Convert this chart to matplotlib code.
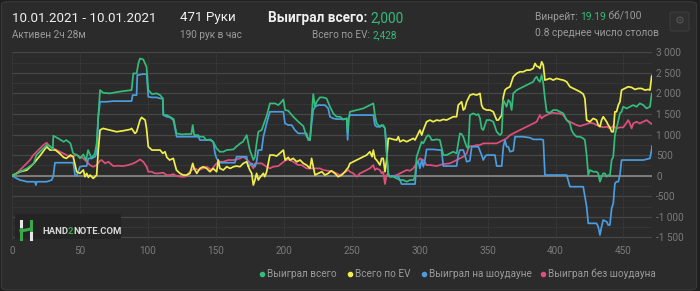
import matplotlib.pyplot as plt
from matplotlib.patches import FancyBboxPatch, Rectangle
from matplotlib.lines import Line2D
import numpy as np

# ---- данные (руки, результат в $) ----
green_x = [0, 6, 11, 16, 18, 23, 25.5, 28, 30, 30.4, 34, 38, 40, 43, 45, 48, 50, 52.5, 54.5, 56, 58.6, 61, 62.3, 63.5, 64.8,
           67, 72, 77, 84, 88, 89.3, 91.7, 93, 94.2, 96.6, 99, 100.3, 103, 106.5, 109, 111, 111.4, 114, 116, 119, 121,
           125, 128.5, 132, 133, 134, 137, 138, 141, 143, 146, 148, 150.6, 153, 155.5, 158, 163, 165, 168, 170, 172.7,
           174, 175, 176.4, 177.6, 178.8, 180, 181.3, 183.7, 187.4, 189.8, 193.5, 196, 198.4, 199.7, 201, 203.3, 207,
           210.7, 214.4, 216.8, 219.3, 220.5, 221.7, 223, 224.2, 226.6, 229, 231.5, 234, 236.4, 239, 241.4, 243.8, 246.3,
           247, 247.8, 248.7, 253.6, 258.5, 263.4, 265.9, 267.1, 268.3, 270.8, 273.2, 274.5, 275.7, 276.9, 278.1, 280.6,
           283.1, 285.5, 288, 290.4, 292.9, 295.3, 296.6, 297.8, 300.2, 301.5, 302.7, 305.1, 306.3, 307.6, 308.8, 310,
           312.5, 314.9, 317.4, 319.8, 322.3, 324.7, 327.2, 329.6, 330.9, 332.1, 333.3, 334.6, 335.8, 337, 339.5, 341.9,
           343.2, 344.4, 345.6, 346.8, 349.3, 351.8, 354.2, 356.7, 359.1, 360.4, 361.6, 362.8, 364, 365.2, 366.5, 367.7,
           368.9, 371.4, 373.8, 376.3, 378.7, 381.2, 383.6, 384.9, 386.1, 387.3, 388.5, 389.8, 391, 392.2, 393.5, 395.9,
           398.3, 400.8, 403.3, 405.7, 408.2, 410.6, 411.8, 413.1, 415.5, 418, 420.4, 421.6, 422.9, 424.1, 425.3, 427.8,
           430.2, 431.4, 432.7, 433.9, 435.1, 436.3, 437.6, 438.8, 440, 441.3, 442.5, 443.7, 444.9, 447.4, 448.6, 449.8,
           452.3, 454.7, 457.2, 459.6, 462.1, 464.6, 467, 469.5, 470.7, 471]
green_y = [0, 97, 178, 300, 502, 664, 745, 721, 624, 972, 907, 826, 867, 786, 543, 502, 421, 518, 381, 624, 421, 543, 786, 1434, 2082,
           2017, 2001, 2033, 2066, 2082, 2487, 2487, 2730, 2851, 2827, 2649, 2082, 1985, 2001, 1960, 1879, 1474, 1474, 1434, 1377, 1029,
           1004, 1013, 1013, 1231, 988, 988, 948, 948, 867, 883, 826, 664, 583, 583, 624, 640, 705, 786, 826, 988,
           786, 624, 502, 381, 462, 786, 1069, 1110, 1450, 1758, 1758, 1717, 1798, 1855, 1596, 1580, 1434,
           1312, 1207, 948, 867, 1434, 1985, 1677, 1798, 1904, 1904, 1879, 1677, 1515, 1434, 1434, 1369, 1393,
           1040, 1393, 1555, 1596, 1636, 1717, 1758, 1474, 1272, 1191, 1231, 1150, 624, 16, -24, -24,
           -65, -105, -105, -146, -105, -105, -24, 462, 705, 826, 786, 948, 988, 948, 867, 867,
           883, 867, 502, 502, 543, 583, 543, 1029, 1013, 948, 826, 705, 664, 1474, 1515, 1474,
           1499, 1393, 1150, 1110, 1353, 1353, 1312, 1069, 988, 1029, 1839, 1758, 1677, 1839, 1798, 1596,
           2001, 2082, 2122, 2163, 2203, 2244, 2284, 2365, 2406, 2325, 2284, 2446, 2244, 1879, 1555, 1531,
           1596, 1596, 1555, 1515, 1353, 1272, 1110, 1029, 948, 948, 907, 867, 502, 16, 138, 97,
           97, 57, -146, -24, 57, 57, -24, 16, -8, 381, 462, 988, 1150, 1515, 1555, 1677,
           1636, 1677, 1717, 1677, 1758, 1717, 1636, 1677, 1960, 2000]

ev_x = [0, 6, 11, 16, 21, 25.5, 28, 32, 35, 38, 40, 43, 45, 47.6, 50, 52.5, 53.7, 55, 56.2, 57.4, 59.8, 62.3, 63.5, 64.8,
        67, 72, 77, 82, 87, 88, 90.5, 91.7, 94.2, 95.4, 98, 99, 100.3, 103, 106.5, 109, 111, 112.6, 114, 116, 118.7,
        121, 123.6, 126, 128.5, 131, 133, 134, 136, 138.3, 140.8, 143.2, 145.7, 148, 150.6, 151.8, 153, 155.5, 158,
        160.5, 163, 165.3, 167.8, 170.2, 172.7, 174, 175, 176.4, 177.6, 178.8, 180, 181.3, 182.5, 185, 186, 187.4,
        189.8, 192.3, 194.7, 197, 199.7, 201, 203.3, 204.5, 207, 209.5, 212, 214.4, 216.8, 219.3, 220.5, 221.7, 223,
        225.4, 228, 230.3, 232.7, 235, 237.6, 240, 242.6, 245, 247.5, 248.7, 253.6, 258.5, 261, 263.4, 265, 265.9,
        267.1, 268.3, 270.8, 272, 273.2, 274.5, 275.7, 276.9, 278.1, 280.6, 283.1, 284.3, 285.5, 288, 290.4, 292.9,
        295.3, 296.6, 297.8, 300.2, 301.5, 302.7, 305.1, 307.6, 310, 312.5, 314.9, 317.4, 319.8, 322.3, 324.7, 327.2,
        328.4, 330.9, 332.1, 333.3, 334.6, 337, 339.5, 341.9, 344.4, 345.6, 346.8, 349.3, 351.8, 354.2, 356.7, 357.9,
        360.4, 361.6, 362.8, 364, 366.5, 367.7, 368.9, 371.4, 373.8, 376.3, 378.7, 381.2, 383.6, 384.9, 386.1, 387.3,
        388.5, 389.8, 391, 392.2, 395.9, 398.3, 400.8, 403.3, 405.7, 408.2, 410.6, 413.1, 415.5, 418, 420.4, 421.6,
        422.9, 425.3, 427.8, 430.2, 431.4, 432.7, 433.9, 435.1, 437.6, 438.8, 440, 441.3, 442.5, 443.7, 444.9, 446.2,
        447.4, 448.6, 451.1, 453.5, 456, 458.4, 460.9, 463.3, 465.8, 468.2, 469.5, 470.7, 471]
ev_y = [0, 97, 138, 300, 502, 705, 624, 624, 543, 446, 421, 502, 462, 97, 57, 138, -24, 57, -40, 16, -65, 16, 624, 1110,
        1150, 1110, 1069, 1094, 1126, 1150, 1029, 1069, 1353, 1418, 1353, 1150, 705, 624, 624, 624, 543, 583, 446, 381, 421,
        138, 57, 16, 16, 57, 300, 178, 57, 178, 219, 178, 97, 178, 97, 381, 178, 138, 219,
        178, 219, 235, 219, 300, 340, 219, 138, 57, -227, -105, 57, -105, -40, 57, -24, 97,
        502, 502, 478, 543, 624, 381, 446, 381, 421, 340, 381, 300, 259, 178, 421, 219, 16,
        57, 97, 16, 57, 121, 57, -24, 16, 97, 203, 300, 381, 462, 502, 583, 462, 624,
        421, 381, 259, 421, 421, 97, 381, 907, 907, 883, 867, 948, 826, 867, 826, 867,
        907, 867, 948, 1110, 988, 1110, 1312, 1353, 1312, 1353, 1337, 1369, 1353, 1393, 1434, 1434,
        1717, 1798, 1596, 1636, 1798, 1960, 1985, 1960, 2001, 1717, 1636, 1596, 1596, 1555, 1353, 1353,
        1474, 1920, 2082, 2122, 2163, 2284, 2406, 2487, 2527, 2527, 2568, 2568, 2608, 2730, 2665, 2649,
        2608, 2770, 2689, 2325, 2365, 2325, 2365, 2341, 2325, 2284, 2163, 2122, 2082, 2042, 1985, 1879,
        1353, 1312, 1393, 1353, 1231, 1191, 1353, 1434, 1312, 1231, 1175, 1069, 1069, 1555, 1555, 1717,
        1798, 2082, 2122, 2163, 2147, 2098, 2122, 2122, 2082, 2098, 2082, 2406, 2430]

sd_x = [0, 3.4, 5.9, 8.3, 10.8, 13, 16.9, 17.6, 18.2, 20.6, 25.5, 29.2, 30.4, 31.6, 34, 37.8, 42.7, 45.1, 46.4, 47.6,
        50, 52.5, 54.9, 56.2, 58.6, 61.1, 62.3, 63.5, 64.8, 69.6, 74.5, 79.4, 84.4, 88, 88.8, 91.7, 92.2, 96.6, 99.1,
        100.3, 102.8, 106.5, 108.9, 110.9, 111.4, 113.8, 116.3, 118.7, 121.2, 124.8, 128.5, 133.4, 137.1, 138.3, 145.7,
        148.1, 149.4, 150.6, 153, 155.5, 160.5, 164, 165.3, 167.8, 170.2, 172.7, 173.9, 176.4, 177.6, 178.8, 180,
        181.3, 183.7, 185, 187.4, 189.8, 192.3, 194.7, 198.4, 199.7, 200.9, 203.3, 205.8, 208.2, 210.7, 214.4, 216.8,
        218, 219.3, 220.5, 221.7, 223, 225.4, 227.9, 230.3, 232.7, 234, 236.4, 238.9, 241.4, 243.8, 246.3, 247,
        247.8, 248.7, 253.6, 258.5, 263.4, 265.9, 267.1, 268.3, 270.8, 272, 273.2, 274.5, 275.7, 276.9, 278.1, 280.6,
        284.3, 285.5, 286.7, 290.4, 294.1, 296.6, 297.8, 299, 300.2, 301.5, 302.7, 303.9, 305.1, 307.6, 310, 314.9,
        316.1, 317.4, 319.8, 322.3, 324.7, 327.2, 328.4, 329.6, 332.1, 333.3, 334.6, 337, 338.3, 340.7, 343.2, 345.6,
        346.8, 348.1, 349.3, 351.8, 355.4, 356.7, 360.4, 361.6, 362.8, 364, 365.2, 366.5, 368.9, 370.2, 373.8, 376.3,
        381.2, 383.6, 386.1, 389.8, 391, 392.2, 394.7, 398.3, 403.3, 408.2, 410.6, 413.1, 418, 420.4, 422.9, 424.1,
        426.5, 430.2, 431.4, 432.7, 433.9, 435.1, 437.6, 438.8, 440, 441.3, 442.5, 443.7, 444.9, 446.2, 447.4, 448.6,
        451.1, 454.7, 459.6, 464.6, 469.5, 470.7, 471]
sd_y = [0, -65, -105, -122, -146, -146, -146, -227, -146, -146, -146, -105, -8, 316, 316, 316, 316, 316, 16, -8,
        219, 235, 235, 421, 421, 462, 543, 1434, 1798, 1798, 1814, 1814, 1814, 1814, 1960, 1960, 2446, 2471, 2471,
        1920, 1904, 1904, 1879, 1879, 1474, 1434, 1418, 1353, 948, 948, 948, 948, 948, 867, 867,
        826, 543, 421, 316, 316, 316, 316, 462, 462, 462, 462, 219, 300, 259, 219, 340,
        624, 624, 948, 1272, 1555, 1555, 1555, 1555, 1555, 1272, 1231, 1231, 1110, 1029, 1029, 1029,
        867, 867, 1272, 1596, 1677, 1717, 1717, 1717, 1636, 1434, 1393, 1377, 1377, 1369, 1393, 870,
        1393, 1474, 1474, 1474, 1474, 1474, 1231, 1191, 1191, 1231, 1207, 1150, 543, 16, -8, -8,
        -24, -105, -203, -203, -203, -203, 300, 340, 178, 381, 219, 381, 640, 640, 640, 624,
        624, 235, 235, 235, 235, 235, 502, 624, 624, 502, 340, 365, 705, 705, 705, 502,
        381, 462, 502, 502, 502, 235, 235, 705, 867, 705, 705, 583, 608, 948, 948, 948,
        924, 883, 883, 883, 867, 16, 16, 16, 16, 16, -267, -267, -267, -267, -753, -1158,
        -1158, -1158, -1239, -1442, -1239, -1077, -1118, -1199, -1199, -794, -672, -186, -146, -146, 16, 381,
        381, 381, 381, 381, 421, 624, 720]

nsd_x = [0, 3.4, 5.9, 8.3, 10.8, 13.2, 15.7, 18.2, 20.6, 23, 25.5, 28, 30.4, 32.9, 35.3, 37.8, 40.2, 42.7, 45.1, 47.6,
         50, 52.5, 54.9, 57.4, 59.8, 62.3, 64.8, 66, 68.5, 70.9, 74.5, 78.2, 81.9, 85.6, 89.3, 91.7, 94.2, 96.6, 99.1,
         100.3, 102.8, 105.2, 107.7, 111.4, 113.8, 116.3, 118.7, 121.2, 124.8, 127.3, 129.7, 132.2, 134.6, 137.1, 140.8,
         143.2, 146.9, 149.4, 151.8, 155.5, 159.2, 162.9, 165.3, 167.8, 170.2, 172.7, 175.1, 177.6, 178.8, 181.3, 183.7,
         187.4, 189.8, 192.3, 196, 198.4, 200.9, 203.3, 207, 210.7, 213.1, 216.8, 220.5, 224.2, 226.6, 229.1, 232.7,
         236.4, 238.9, 241.4, 243.8, 247.5, 248.7, 251.2, 253.6, 256.1, 258.5, 261, 263.4, 265.9, 267.1, 268.3, 270.8,
         272, 273.2, 274.5, 275.7, 276.9, 278.1, 280.6, 283.1, 285.5, 288, 290.4, 292.9, 295.3, 297.8, 300.2, 302.7,
         305.1, 307.6, 312.5, 317.4, 322.3, 327.2, 329.6, 332.1, 334.6, 335.8, 337, 339.5, 341.9, 344.4, 346.8, 351.8,
         356.7, 359.1, 361.6, 364, 366.5, 368.9, 371.4, 373.8, 376.3, 378.7, 381.2, 383.6, 386.1, 388.5, 389.8, 391,
         393.5, 395.9, 398.3, 400.8, 403.3, 405.7, 408.2, 410.6, 413.1, 415.5, 418, 420.4, 422.9, 425.3, 427.8, 430.2,
         432.7, 435.1, 437.6, 440, 442.5, 444.9, 447.4, 449.8, 452.3, 453.5, 454.7, 456, 457.2, 459.6, 462.1, 464.6,
         467, 469.5, 471]
nsd_y = [0, 57, 138, 219, 300, 381, 502, 583, 664, 745, 802, 705, 664, 624, 583, 543, 502, 462, 478, 502,
         462, 421, 340, 259, 219, 259, 365, 381, 300, 340, 235, 243, 235, 259, 300, 340, 397, 340, 219,
         97, 97, 57, 57, 73, 16, 16, 40, -8, -24, -24, 57, 138, 178, 138, 178,
         219, 138, 259, 340, 340, 381, 381, 397, 421, 462, 397, 316, 178, 300, 300, 300,
         219, 178, 219, 235, 300, 365, 397, 340, 259, 259, 178, 178, 178, 178, 138, 121,
         97, 57, 16, 57, 138, 97, 57, -24, 57, 97, 138, 178, 259, 138, 178, 138,
         57, 97, -203, 16, 57, -24, -8, 16, 57, 97, 138, 121, 178, 300, 421, 381,
         259, 259, 235, 283, 300, 381, 421, 462, 543, 664, 721, 721, 745, 745, 786, 786,
         786, 826, 867, 907, 988, 1029, 1069, 1110, 1150, 1191, 1231, 1272, 1312, 1474, 1393, 1434,
         1474, 1515, 1531, 1515, 1515, 1474, 1353, 1312, 1272, 1231, 1207, 1231, 1256, 1288, 1272, 1231,
         1207, 1175, 1191, 1150, 1207, 1150, 1175, 1175, 1288, 1353, 1272, 1150, 1272, 1312, 1272, 1312,
         1353, 1288, 1256]

series = [
    ("Выиграл всего", green_x, green_y, "#33bd7c"),
    ("Всего по EV", ev_x, ev_y, "#f0ee4c"),
    ("Выиграл на шоудауне", sd_x, sd_y, "#4a9de0"),
    ("Выиграл без шоудауна", nsd_x, nsd_y, "#de4f7c"),
]
x_ticks = [0, 50, 100, 150, 200, 250, 300, 350, 400, 450]
y_ticks = [-1500, -1000, -500, 0, 500, 1000, 1500, 2000, 2500, 3000]

BG = "#2b2b2b"
GRAY = "#9b9b9b"
GREEN = "#33bd7c"
WHITE = "#f0f0f0"
plt.rcParams['font.family'] = ['Roboto', 'DejaVu Sans']

fig = plt.figure(figsize=(7, 2.91), dpi=100)
fig.patch.set_facecolor("#1f1f1f")
card = FancyBboxPatch((0.002, 0.004), 0.993, 0.99, boxstyle="round,pad=0,rounding_size=0.01",
                      transform=fig.transFigure, facecolor=BG, edgecolor="#3a3a3a", lw=0.8, zorder=-10)
fig.patches.append(card)

ax = fig.add_axes([12 / 700, 1 - 240 / 291, 640 / 700, 188 / 291])
ax.set_facecolor(BG)
ax.set_xlim(0, 471)
ax.set_ylim(-1563, 3008)

for v in np.arange(-1500, 3001, 250):
    major = v % 500 == 0
    ax.axhline(v, color="#474747" if major else "#383838", lw=0.9 if major else 0.6, zorder=1)
ax.axhline(0, color="#7e7e7e", lw=1.4, zorder=1.5)
for v in x_ticks:
    ax.axvline(v, color="#383838", lw=0.6, zorder=1)

for name, xs, ys, c in series[::-1]:
    ax.plot(xs, ys, color=c, lw=1.25, zorder=3, solid_joinstyle="round")

for s in ax.spines.values():
    s.set_visible(False)
ax.set_xticks(x_ticks)
ax.set_xticklabels([str(t) for t in x_ticks])
ax.set_yticks(y_ticks)
ax.set_yticklabels([f"{t:,}".replace(",", " ") for t in y_ticks])
ax.yaxis.tick_right()
ax.tick_params(colors="#7a7a7a", labelsize=7.2, length=0, pad=3)
ax.tick_params(axis="x", pad=4)

renderer = fig.canvas.get_renderer()


def chain(x_px, y_px, parts, size, gap=0):
    # кладёт куски текста друг за другом по одной строке
    x = x_px / 700
    for txt, color, weight in parts:
        t = fig.text(x, 1 - y_px / 291, txt, color=color, fontsize=size, fontweight=weight, va="center")
        w = t.get_window_extent(renderer).width
        x += (w + gap) / 700
    return x


# watermark
ax.add_patch(Rectangle((0.005, 0.005), 0.165, 0.135, transform=ax.transAxes, facecolor="#242424",
                       edgecolor="none", zorder=4))
logo = [((21, 221), (21, 229), "#e8e8e8"), ((21, 229), (21, 239), "#3aa84a"),
        ((21, 231), (31, 229), "#3aa84a"), ((31, 221), (31, 231), "#3aa84a"),
        ((31, 233), (31, 239), "#e8e8e8")]
for (x0, y0), (x1, y1), c in logo:
    fig.add_artist(Line2D([x0 / 700, x1 / 700], [1 - y0 / 291, 1 - y1 / 291], color=c, lw=2.2))
chain(42, 231, [("HAND", "#d8d8d8", "bold"), ("2", "#3aa84a", "bold"), ("NOTE.COM", "#d8d8d8", "bold")], 6.8)

# header
fig.text(12 / 700, 1 - 18 / 291, "10.01.2021 - 10.01.2021", color=WHITE, fontsize=9.6, va="center")
fig.text(12 / 700, 1 - 35 / 291, "Активен 2ч 28м", color=GRAY, fontsize=7.2, va="center")
fig.text(180 / 700, 1 - 18 / 291, "471 Руки", color=WHITE, fontsize=9.6, va="center")
fig.text(180 / 700, 1 - 35 / 291, "190 рук в час", color=GRAY, fontsize=7.2, va="center")
chain(268, 18, [("Выиграл всего: ", WHITE, "bold"), ("2,000", GREEN, "normal")], 9.8)
chain(312, 35, [("Всего по EV: ", GRAY, "normal"), ("2,428", GREEN, "normal")], 7.2)
chain(535, 17, [("Винрейт: ", GRAY, "normal"), ("19.19", GREEN, "normal"), (" бб/100", GRAY, "normal")], 7.4)
fig.text(535 / 700, 1 - 33 / 291, "0.8 среднее число столов", color=GRAY, fontsize=7.4, va="center")
fig.patches.append(FancyBboxPatch((670 / 700, 1 - 31 / 291), 19 / 700, 19 / 291,
                                  boxstyle="round,pad=0,rounding_size=0.004", transform=fig.transFigure,
                                  facecolor="#2f2f2f", edgecolor="#3c3c3c", lw=0.8))
fig.text(679.5 / 700, 1 - 21.5 / 291, "⚙", color="#555555", fontsize=8, ha="center", va="center",
         family=["DejaVu Sans"])

# legend
leg_x = [262, 350, 424, 543]
for (name, xs, ys, c), lx in zip(series, leg_x):
    fig.add_artist(Line2D([lx / 700], [1 - 274 / 291], marker="o", ms=3, color=c, lw=0))
    fig.text((lx + 5) / 700, 1 - 274 / 291, name, color=GRAY, fontsize=7.2, va="center")

fig.savefig("out.png", dpi=100, facecolor=fig.get_facecolor())
